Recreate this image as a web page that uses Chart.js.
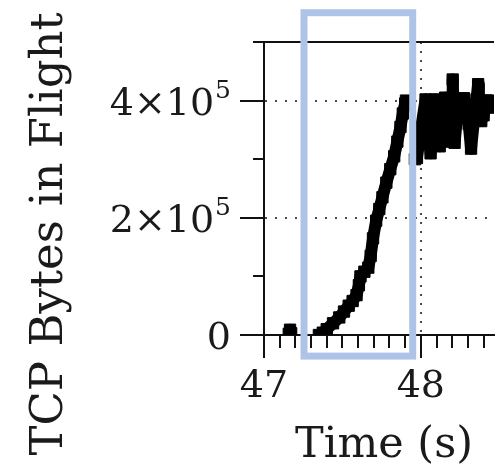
<!DOCTYPE html>
<html>
<head>
<meta charset="utf-8">
<title>TCP Bytes in Flight</title>
<script src="https://cdn.jsdelivr.net/npm/chart.js@4.4.1/dist/chart.umd.min.js"></script>
<style>
  html, body { margin: 0; padding: 0; background: #fff; }
  canvas { display: block; }
</style>
</head>
<body>
<canvas id="graficoBytes" width="503" height="472"></canvas>
<script>
// valores (null = quebra no traço)
const timeSec = [
  47.158, 47.166, 47.173,
  47.25,
  47.35, 47.375, 47.40, 47.44, 47.48, 47.51, 47.54, 47.565, 47.59, 47.605,
  47.615, 47.64, 47.665, 47.68, 47.695, 47.715, 47.735, 47.755, 47.78, 47.805,
  47.83, 47.85, 47.87, 47.885, 47.9, 47.905,
  47.93,
  47.962, 47.975, 48.0, 48.03, 48.045, 48.062, 48.075, 48.09, 48.105, 48.12,
  48.14, 48.155, 48.17, 48.185, 48.2, 48.203, 48.207, 48.215, 48.23, 48.245,
  48.26, 48.275, 48.29, 48.305, 48.32, 48.34, 48.355, 48.365, 48.37, 48.385,
  48.4, 48.415, 48.43, 48.445, 48.46, 48.48
];
const bytesInFlight = [
  2000, 9000, 3000,
  null,
  0, 4000, 10000, 20000, 30000, 40000, 50000, 58000, 68000, 85000,
  100000, 108000, 115000, 135000, 165000, 195000, 215000, 235000, 260000, 283000,
  305000, 330000, 355000, 378000, 395000, 400000,
  null,
  300000, 302000, 350000, 402000, 360000, 310000, 350000, 402000, 360000, 322000,
  380000, 405000, 350000, 330000, 400000, 436000, 400000, 328000, 370000, 403000,
  380000, 404000, 392000, 360000, 318000, 370000, 402000, 428000, 398000, 365000,
  375000, 400000, 388000, 400000, 392000, 398000
];

const xMajorTicks = [47, 48];
const xTickLabels = ['47', '48'];
const yMajorTicks = [0, 200000, 400000];
const yTickLabels = ['0', '2×10^5', '4×10^5'];
const highlightTime = [47.255, 47.948];
const highlightBytes = [-36000, 550000];

const X_MIN = 47, X_MAX = 48.4663, Y_MIN = 0, Y_MAX = 500000;
const SERIF = '"DejaVu Serif", "Liberation Serif", serif';

const isMajor = (v, list) => list.some(m => Math.abs(m - v) < 1e-6);

// ticks, textos e retângulo azul
const extras = {
  id: 'extras',
  afterDraw(chart) {
    const ctx = chart.ctx;
    const { left, right, top, bottom } = chart.chartArea;
    const xs = chart.scales.x, ys = chart.scales.y;

    ctx.save();
    ctx.strokeStyle = '#111';
    ctx.lineWidth = 2;
    const seg = (x1, y1, x2, y2) => {
      ctx.beginPath(); ctx.moveTo(x1, y1); ctx.lineTo(x2, y2); ctx.stroke();
    };
    xs.ticks.forEach(t => {
      const px = Math.round(xs.getPixelForValue(t.value));
      seg(px, bottom, px, bottom + (isMajor(t.value, xMajorTicks) ? 23 : 13));
    });
    ys.ticks.forEach(t => {
      const py = Math.round(ys.getPixelForValue(t.value));
      seg(left - (isMajor(t.value, yMajorTicks) ? 24 : 11), py, left, py);
    });
    // linha de cima
    seg(left - 11, top, right, top);

    // rótulos
    ctx.fillStyle = '#1a1a1a';
    ctx.textBaseline = 'alphabetic';
    ctx.font = '38px ' + SERIF;
    ctx.textAlign = 'center';
    xMajorTicks.forEach((v, i) => {
      ctx.fillText(xTickLabels[i], xs.getPixelForValue(v), bottom + 62);
    });
    yMajorTicks.forEach((v, i) => {
      const py = ys.getPixelForValue(v);
      const [base, exp] = yTickLabels[i].split('^');
      let xr = left - 33;
      ctx.textAlign = 'right';
      if (exp) {
        ctx.font = '25px ' + SERIF;
        ctx.fillText(exp, xr, py - 3);
        xr -= ctx.measureText(exp).width + 1;
      }
      ctx.font = '38px ' + SERIF;
      ctx.fillText(base, xr, py + 14);
    });

    // títulos dos eixos
    ctx.font = '43px ' + SERIF;
    ctx.textAlign = 'center';
    ctx.fillText('Time (s)', (left + right) / 2 + 5, 457);
    ctx.save();
    ctx.translate(62, 234);
    ctx.rotate(-Math.PI / 2);
    ctx.font = '45px ' + SERIF;
    ctx.fillText('TCP Bytes in Flight', 0, 0);
    ctx.restore();

    // destaque
    const x1 = xs.getPixelForValue(highlightTime[0]);
    const x2 = xs.getPixelForValue(highlightTime[1]);
    const y1 = ys.getPixelForValue(highlightBytes[1]);
    const y2 = ys.getPixelForValue(highlightBytes[0]);
    ctx.strokeStyle = '#aec3e7';
    ctx.lineWidth = 7;
    ctx.strokeRect(x1, y1, x2 - x1, y2 - y1);
    ctx.restore();
  }
};

const ctx = document.getElementById('graficoBytes');
new Chart(ctx, {
  type: 'scatter',
  data: {
    datasets: [{
      data: timeSec.map((t, i) => ({ x: t, y: bytesInFlight[i] })),
      showLine: true,
      spanGaps: false,
      borderColor: '#000',
      backgroundColor: '#000',
      borderWidth: 12,
      borderJoinStyle: 'round',
      pointStyle: 'rect',
      pointRadius: 8,
      pointBorderWidth: 1,
      pointHoverRadius: 8
    }]
  },
  options: {
    responsive: false,
    animation: false,
    events: [],
    layout: { padding: { top: 42, right: 0, left: 0, bottom: 0 } },
    scales: {
      x: {
        type: 'linear',
        min: X_MIN,
        max: X_MAX,
        afterFit: s => { s.height = 137; },
        afterBuildTicks: s => {
          const arr = [];
          for (let i = 0; i <= 14; i++) arr.push({ value: 47 + i / 10 });
          s.ticks = arr;
        },
        ticks: { display: false },
        grid: {
          drawTicks: false,
          lineWidth: 2,
          color: c => (c.tick && Math.abs(c.tick.value - 48) < 1e-6) ? '#4a4a4a' : 'rgba(0,0,0,0)'
        },
        border: { display: true, color: '#111', width: 2, dash: [2, 7] }
      },
      y: {
        min: Y_MIN,
        max: Y_MAX,
        afterFit: s => { s.width = 264; },
        afterBuildTicks: s => {
          const arr = [];
          for (let v = 0; v <= 500000; v += 100000) arr.push({ value: v });
          s.ticks = arr;
        },
        ticks: { display: false },
        grid: {
          drawTicks: false,
          lineWidth: 2,
          color: c => (c.tick && (c.tick.value === 200000 || c.tick.value === 400000)) ? '#4a4a4a' : 'rgba(0,0,0,0)'
        },
        border: { display: true, color: '#111', width: 2, dash: [2, 8] }
      }
    },
    plugins: {
      legend: { display: false },
      tooltip: { enabled: false },
      title: { display: false }
    }
  },
  plugins: [extras]
});
</script>
</body>
</html>
